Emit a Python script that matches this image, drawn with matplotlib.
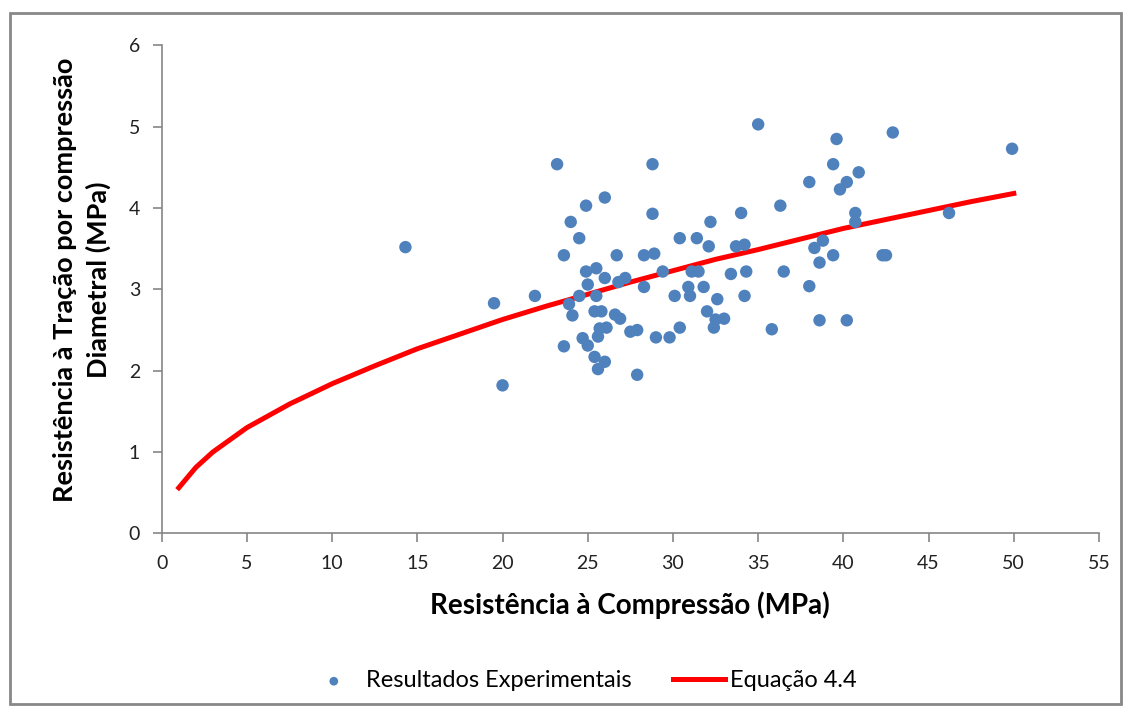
import matplotlib.pyplot as plt
from matplotlib.patches import Rectangle

# experimental results: compressive strength (MPa) vs diametral tensile strength (MPa)
fc = [14.3, 19.5, 20.0, 21.9, 23.2, 23.6, 23.6, 24.0, 23.9, 24.1,
      24.5, 24.5, 24.9, 24.9, 25.0, 24.7, 25.0, 25.5, 25.5, 25.4,
      25.8, 25.7, 26.1, 25.6, 25.4, 26.0, 25.6, 26.0, 26.0, 26.7,
      26.8, 27.2, 26.6, 26.9, 27.5, 27.9, 27.9, 28.3, 28.9, 28.3,
      28.8, 28.8, 29.0, 29.8, 29.4, 30.1, 30.4, 30.4, 30.9, 31.0,
      31.1, 31.5, 31.4, 31.8, 32.0, 32.1, 32.2, 32.4, 32.5, 33.0,
      32.6, 33.4, 33.7, 34.2, 34.0, 34.3, 34.2, 35.0, 35.8, 36.3,
      36.5, 38.0, 38.0, 38.3, 38.8, 38.6, 39.4, 38.6, 39.4, 39.6,
      39.8, 40.2, 40.9, 40.7, 40.7, 40.2, 42.3, 42.5, 42.9, 46.2,
      49.9]
fct = [3.52, 2.83, 1.82, 2.92, 4.54, 3.42, 2.30, 3.83, 2.82, 2.68,
       3.63, 2.92, 4.03, 3.22, 3.06, 2.40, 2.31, 3.26, 2.92, 2.73,
       2.73, 2.52, 2.53, 2.42, 2.17, 2.11, 2.02, 4.13, 3.14, 3.42,
       3.09, 3.14, 2.69, 2.64, 2.48, 2.50, 1.95, 3.42, 3.44, 3.03,
       4.54, 3.93, 2.41, 2.41, 3.22, 2.92, 3.63, 2.53, 3.03, 2.92,
       3.22, 3.22, 3.63, 3.03, 2.73, 3.53, 3.83, 2.53, 2.63, 2.64,
       2.88, 3.19, 3.53, 3.55, 3.94, 3.22, 2.92, 5.03, 2.51, 4.03,
       3.22, 4.32, 3.04, 3.51, 3.60, 3.33, 3.42, 2.62, 4.54, 4.85,
       4.23, 4.32, 4.44, 3.94, 3.83, 2.62, 3.42, 3.42, 4.93, 3.94,
       4.73]

# Equação 4.4 curve
eq_x = [1, 2, 3, 4, 5, 7.5, 10, 12.5, 15, 17.5, 20, 22.5, 25, 27.5,
        30, 32.5, 35, 37.5, 40, 42.5, 45, 47.5, 50]
eq_y = [0.56, 0.81, 1.00, 1.15, 1.30, 1.59, 1.84, 2.06, 2.27, 2.45,
        2.63, 2.79, 2.94, 3.09, 3.23, 3.37, 3.49, 3.62, 3.75, 3.86,
        3.97, 4.08, 4.18]

plt.rcParams['font.family'] = ['Lato', 'DejaVu Sans']

fig = plt.figure(figsize=(11.31, 7.13), dpi=100)
ax = fig.add_axes([0.143, 0.252, 0.8287, 0.6842])

ax.scatter(fc, fct, s=80, color='#4F81BD', edgecolors='none', zorder=3,
           label='Resultados Experimentais')
ax.plot(eq_x, eq_y, color='#FF0000', lw=3.6, zorder=2, label='Equação 4.4')

ax.set_xlim(0, 55)
ax.set_ylim(0, 6)
ax.set_xticks(range(0, 56, 5))
ax.set_yticks(range(0, 7))
for side in ['top', 'right']:
    ax.spines[side].set_visible(False)
for side in ['left', 'bottom']:
    ax.spines[side].set_color('#868686')
    ax.spines[side].set_linewidth(1.2)
ax.tick_params(direction='out', length=6.5, width=1.2, color='#868686',
               labelsize=14, labelcolor='#222222', pad=9)

ax.set_xlabel('Resistência à Compressão (MPa)', fontsize=20, fontweight='bold', labelpad=14)
ax.set_ylabel('Resistência à Tração por compressão\nDiametral (MPa)', fontsize=19.5,
              fontweight='bold', labelpad=13, linespacing=1.4)
ax.yaxis.label.set_y(0.52)

fig.legend(loc='center', bbox_to_anchor=(0.515, 0.045), ncol=2, frameon=False,
           fontsize=17, handlelength=2.2, columnspacing=1.75, handletextpad=0.25,
           markerscale=0.7)

# chart frame
fig.patches.append(Rectangle((0.009, 0.012), 0.982, 0.97, transform=fig.transFigure,
                             fill=False, edgecolor='#888888', lw=2))

fig.savefig('out.png', dpi=100)
